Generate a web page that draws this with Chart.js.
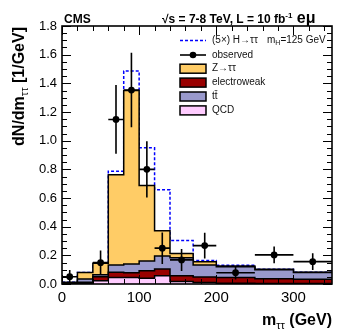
<!DOCTYPE html>
<html><head><meta charset="utf-8">
<script src="https://cdn.jsdelivr.net/npm/chart.js@4.4.0/dist/chart.umd.min.js"></script>
<style>html,body{margin:0;padding:0;background:#fff}#c{display:block}</style>
</head><body>
<canvas id="c" width="349" height="335"></canvas>
<script>
// ---- data (values in 1/GeV) ----
const binEdges = [0,20,40,60,80,100,120,140,170,200,250,300,350];
const qcd  = [0.003,0.005,0.023,0.045,0.045,0.040,0.058,0.018,0.010,0.006,0.004,0.003];
const ewk  = [0.002,0.007,0.027,0.037,0.033,0.053,0.047,0.040,0.038,0.039,0.032,0.030];
const ttbar= [0.003,0.023,0.015,0.051,0.062,0.068,0.091,0.126,0.085,0.076,0.064,0.047];
const ztt  = [0.004,0.045,0.080,0.630,1.210,0.527,0.175,0.029,0.023,0.004,0.003,0.002];
const sig5 = [0.000,0.000,0.000,0.023,0.136,0.262,0.287,0.090,0.008,0.005,0.000,0.000];
const obsBin = [0,2,3,4,5,6,7,8,9,10,11];
const obsVal = [0.051,0.149,1.148,1.353,0.800,0.250,0.168,0.268,0.079,0.203,0.156];
const obsErr = [0.047,0.085,0.240,0.260,0.196,0.110,0.077,0.090,0.047,0.058,0.058];
const xTickValues = [0,100,200,300];
const yTickValues = [0,0.2,0.4,0.6,0.8,1.0,1.2,1.4,1.6,1.8];
const xMinorStep = 20, yMinorStep = 0.05;

// ---- derived ----
const cum = (...arrs) => arrs[0].map((_, i) => arrs.reduce((s, a) => s + a[i], 0));
const cQ = cum(qcd), cE = cum(qcd, ewk), cT = cum(qcd, ewk, ttbar), cZ = cum(qcd, ewk, ttbar, ztt);
const cS = cum(qcd, ewk, ttbar, ztt, sig5);
const steps = vals => { const p = vals.map((v, i) => ({x: binEdges[i], y: v})); p.push({x: binEdges[binEdges.length-1], y: vals[vals.length-1]}); return p; };
const obsPts = obsBin.map((b, i) => ({x: (binEdges[b] + binEdges[b+1]) / 2, y: obsVal[i]}));

const FONT = '"Liberation Sans", Arial, Helvetica, sans-serif';
const histDS = (label, vals, color) => ({label, data: steps(vals), stepped: true, fill: 'origin', backgroundColor: color,
  borderColor: '#000', borderWidth: 1.5, pointRadius: 0, tension: 0});

function rich(ctx, parts, x, y, align) {
  let w = 0;
  parts.forEach(p => { ctx.font = p.font; p.w = ctx.measureText(p.text).width; w += p.w; });
  let cx = align === 'right' ? x - w : x;
  parts.forEach(p => { ctx.font = p.font; ctx.fillText(p.text, cx, y + (p.dy || 0)); cx += p.w; });
}

const framePlugin = {
  id: 'frame',
  afterDatasetsDraw(chart) {
    const {ctx, chartArea: a, scales: {x, y}} = chart;
    ctx.save();
    ctx.strokeStyle = '#000'; ctx.lineWidth = 1;
    ctx.beginPath();
    for (let v = 0; v <= 350 + 1e-9; v += xMinorStep) {
      const px = Math.round(x.getPixelForValue(v)) + 0.5;
      const L = xTickValues.includes(v) ? 9 : 5;
      ctx.moveTo(px, a.bottom); ctx.lineTo(px, a.bottom - L);
      ctx.moveTo(px, a.top); ctx.lineTo(px, a.top + L);
    }
    for (let k = 0; k <= 36; k++) {
      const v = k * yMinorStep;
      const py = Math.round(y.getPixelForValue(v)) + 0.5;
      const L = (k % 4 === 0) ? 9 : 5;
      ctx.moveTo(a.left, py); ctx.lineTo(a.left + L, py);
      ctx.moveTo(a.right, py); ctx.lineTo(a.right - L, py);
    }
    ctx.stroke();
    ctx.lineWidth = 1.6;
    ctx.strokeRect(a.left, a.top, a.right - a.left, a.bottom - a.top);
    // error bars
    ctx.beginPath();
    obsPts.forEach((p, i) => {
      const px = x.getPixelForValue(p.x), py = y.getPixelForValue(p.y);
      ctx.moveTo(px, y.getPixelForValue(p.y - obsErr[i])); ctx.lineTo(px, y.getPixelForValue(p.y + obsErr[i]));
      ctx.moveTo(x.getPixelForValue(binEdges[obsBin[i]]), py); ctx.lineTo(x.getPixelForValue(binEdges[obsBin[i]+1]), py);
    });
    ctx.stroke();
    ctx.restore();
  },
  afterDraw(chart) {
    const {ctx} = chart;
    ctx.save();
    ctx.fillStyle = '#000';
    ctx.textBaseline = 'alphabetic';
    // header
    rich(ctx, [{text: 'CMS', font: 'bold 12px ' + FONT}], 64, 23);
    rich(ctx, [
      {text: '\u221As = 7-8 TeV, L = 10 fb', font: 'bold 12px ' + FONT},
      {text: '-1', font: 'bold 8px ' + FONT, dy: -5},
      {text: ' e\u03BC', font: 'bold 16px ' + FONT}], 162, 23);
    // x title
    rich(ctx, [
      {text: 'm', font: 'bold 16px ' + FONT},
      {text: '\u03C4\u03C4', font: '11px ' + FONT, dy: 4},
      {text: ' (GeV)', font: 'bold 16px ' + FONT}], 332, 325, 'right');
    // y title
    ctx.save();
    ctx.translate(24, 27);
    ctx.rotate(-Math.PI / 2);
    rich(ctx, [
      {text: 'dN/dm', font: 'bold 16px ' + FONT},
      {text: '\u03C4\u03C4', font: '11px ' + FONT, dy: 4},
      {text: ' [1/GeV]', font: 'bold 16px ' + FONT}], 0, 0, 'right');
    ctx.restore();
    // legend
    const lx0 = 180, lx1 = 206, tx = 212, lf = '10px ' + FONT;
    ctx.textBaseline = 'middle';
    ctx.fillStyle = '#111';
    ctx.strokeStyle = '#0000ff'; ctx.lineWidth = 1.5; ctx.setLineDash([3, 2]);
    ctx.beginPath(); ctx.moveTo(lx0, 40.5); ctx.lineTo(lx1, 40.5); ctx.stroke();
    ctx.setLineDash([]);
    rich(ctx, [{text: '(5\u00D7) H\u2192\u03C4\u03C4', font: lf}], tx, 40.5);
    rich(ctx, [{text: 'm', font: lf}, {text: 'H', font: '7px ' + FONT, dy: 3}, {text: '=125 GeV', font: lf}], 267, 40.5);
    ctx.strokeStyle = '#000'; ctx.lineWidth = 1.6;
    ctx.beginPath(); ctx.moveTo(lx0, 55); ctx.lineTo(lx1, 55); ctx.stroke();
    ctx.fillStyle = '#000';
    ctx.beginPath(); ctx.arc((lx0 + lx1) / 2, 55, 3.3, 0, 2 * Math.PI); ctx.fill();
    ctx.fillStyle = '#111';
    rich(ctx, [{text: 'observed', font: lf}], tx, 55);
    const items = [['Z\u2192\u03C4\u03C4', '#ffcc66'], ['electroweak', '#990000'], ['tt\u0304', '#9999cc'], ['QCD', '#ffccff']];
    items.forEach(([t, c], i) => {
      const cy = 68.7 + i * 13.9;
      ctx.fillStyle = c; ctx.fillRect(lx0, cy - 4.5, lx1 - lx0, 9);
      ctx.strokeStyle = '#000'; ctx.lineWidth = 1.5; ctx.strokeRect(lx0, cy - 4.5, lx1 - lx0, 9);
      ctx.fillStyle = '#111';
      rich(ctx, [{text: t, font: lf}], tx, cy);
    });
    ctx.restore();
  }
};

new Chart(document.getElementById('c'), {
  type: 'line',
  data: {
    datasets: [
      {label: 'observed', data: obsPts, showLine: false, pointRadius: 3.4, pointBackgroundColor: '#000', pointBorderColor: '#000', borderColor: '#000', pointBorderWidth: 0},
      histDS('QCD', cQ, '#ffccff'),
      histDS('electroweak', cE, '#990000'),
      histDS('ttbar', cT, '#9999cc'),
      histDS('Ztautau', cZ, '#ffcc66'),
      {label: 'signal', data: steps(cS), stepped: true, fill: false, borderColor: '#0000ff', borderWidth: 1.5, borderDash: [3, 2], pointRadius: 0}
    ]
  },
  options: {
    responsive: false, animation: false, devicePixelRatio: 1,
    layout: {padding: {top: 26, right: 17, left: 0, bottom: 0}},
    plugins: {legend: {display: false}, tooltip: {enabled: false}, title: {display: false}},
    scales: {
      x: {type: 'linear', min: 0, max: 350,
        grid: {display: false, drawTicks: false}, border: {display: false},
        afterBuildTicks: s => { s.ticks = xTickValues.map(v => ({value: v})); },
        afterFit: s => { s.height = 51; },
        ticks: {color: '#000', font: {size: 15, family: FONT}, padding: 5, maxRotation: 0, autoSkip: false}},
      y: {type: 'linear', min: 0, max: 1.8,
        grid: {display: false, drawTicks: false}, border: {display: false},
        afterBuildTicks: s => { s.ticks = yTickValues.map(v => ({value: v})); },
        afterFit: s => { s.width = 62; },
        ticks: {color: '#000', font: {size: 13, family: FONT}, padding: 5, callback: v => Number(v).toFixed(1), autoSkip: false}}
    }
  },
  plugins: [framePlugin]
});
</script>
</body></html>
